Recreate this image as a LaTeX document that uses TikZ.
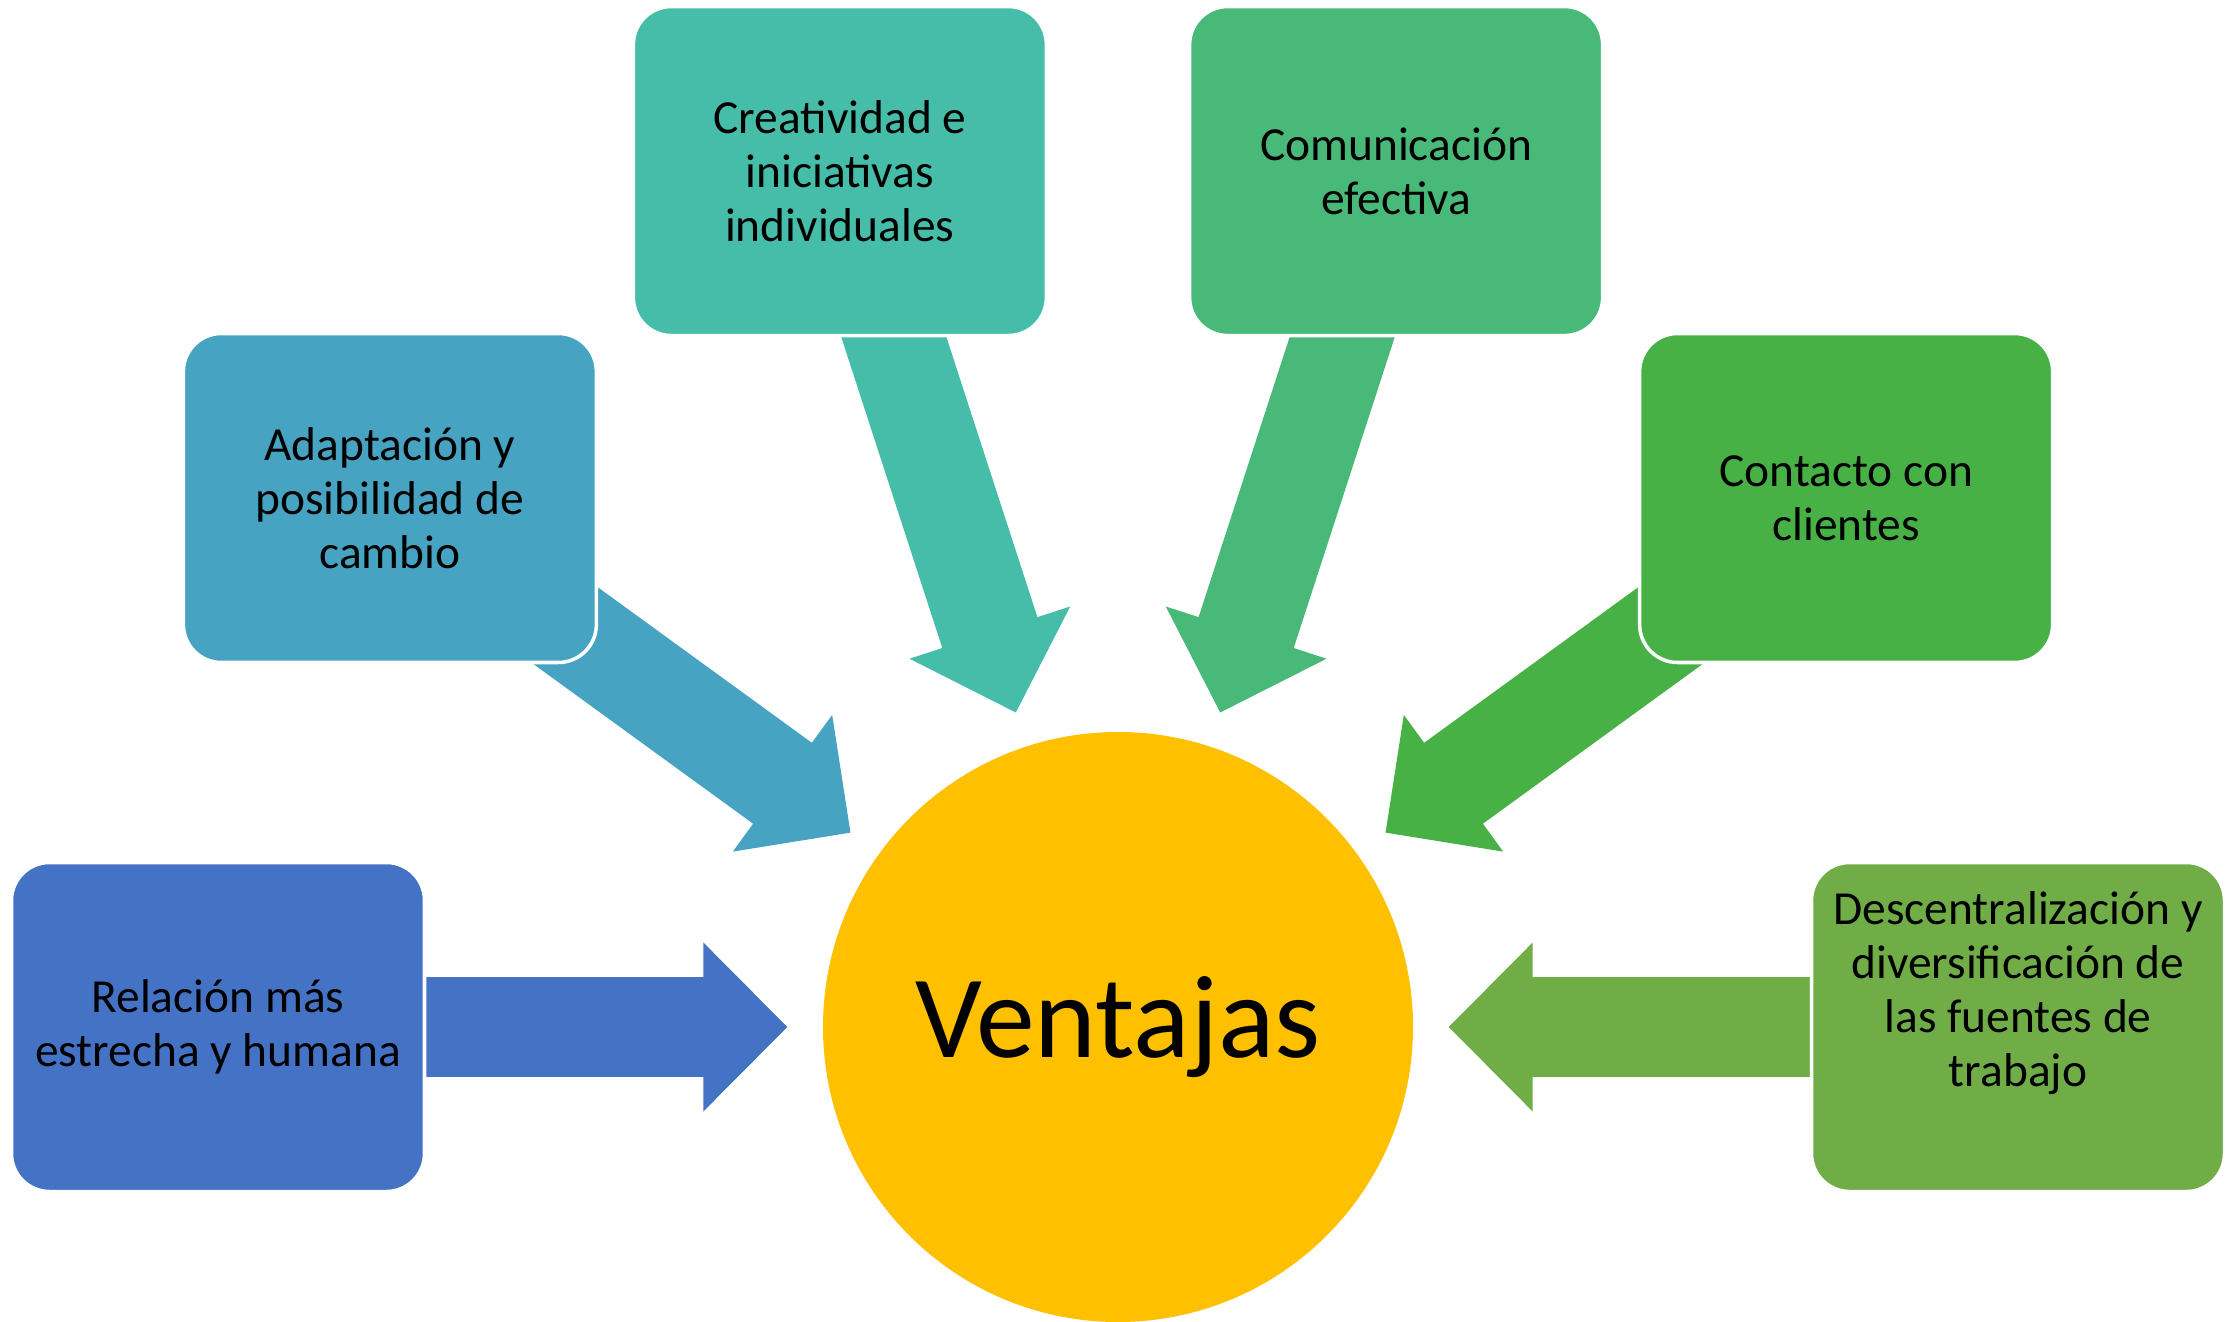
\documentclass[tikz,border=0pt]{standalone}
\usepackage{fontspec}
\setmainfont{Carlito}
\usetikzlibrary{arrows.meta,backgrounds}

\definecolor{c1}{HTML}{4472C4}
\definecolor{c2}{HTML}{46A3C1}
\definecolor{c3}{HTML}{46BDA8}
\definecolor{c4}{HTML}{48B978}
\definecolor{c5}{HTML}{47B146}
\definecolor{c6}{HTML}{70AD47}
\definecolor{hubcol}{HTML}{FFC000}

\begin{document}
\begin{tikzpicture}
\useasboundingbox (0,0) rectangle (22.37,13.21);

\def \n {6}
\def \radius {9cm}
\def \angstep {36} % angle between two boxes

\node[circle, fill=hubcol, minimum size=5.9cm, font=\fontsize{33.5}{40}\selectfont] (ventajas) at (11.18,2.94) {Ventajas};

\begin{scope}[every node/.style={draw=white, line width=1pt, rounded corners=0.38cm, minimum width=4.13cm, minimum height=3.29cm, inner sep=2pt, align=center, font=\fontsize{13.5}{15.4}\selectfont}]
\foreach \txt [count=\s] in {{Relación más\\estrecha y humana}, {Adaptación y\\posibilidad de\\cambio}, {Creatividad e\\iniciativas\\individuales}, {Comunicación\\efectiva}, {Contacto con\\clientes}, {Descentralización y\\diversificación de\\las fuentes de\\trabajo\\[0.22cm]\mbox{}}}
{
  \node[fill=c\s] (b\s) at ([shift={({180-\angstep*(\s-1)}:\radius)}]ventajas.center) {\txt};
}
\end{scope}

\begin{scope}[on background layer]
\foreach \s in {1,...,\n}
  \draw[c\s, line width=1cm, shorten >=0.35cm, -{Triangle[length=0.84cm, width=1.68cm, line width=1.5pt]}] (b\s.center) -- (ventajas);
\end{scope}

\end{tikzpicture}
\end{document}
